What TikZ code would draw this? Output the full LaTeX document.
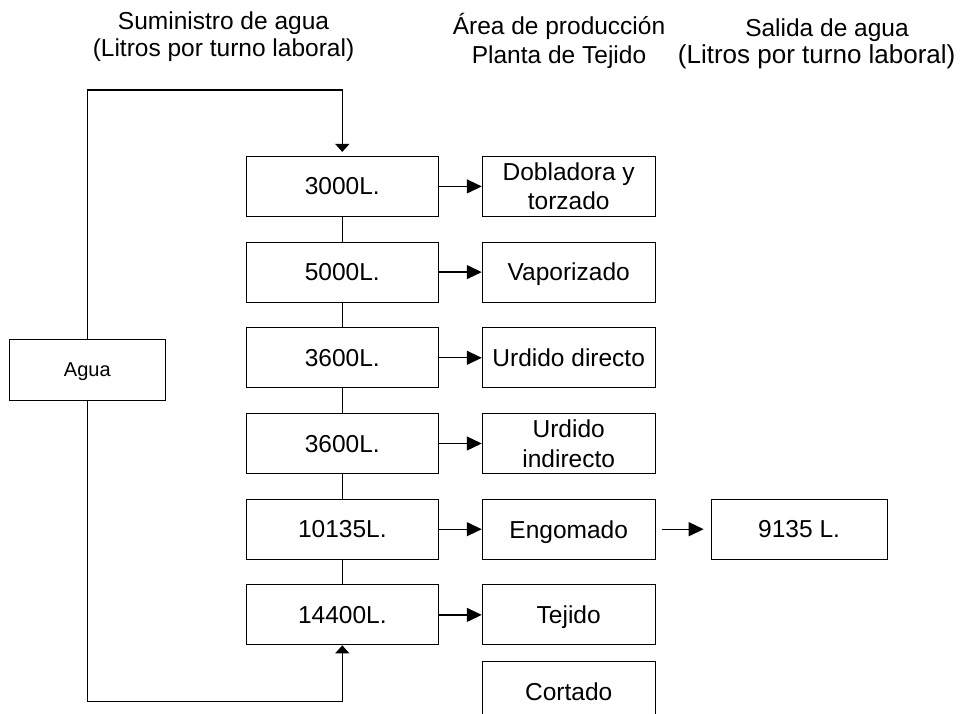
\documentclass[tikz,border=0pt]{standalone}
\usepackage{fontspec}
\setmainfont{Liberation Sans}
\usetikzlibrary{arrows.meta,positioning}

\begin{document}
\begin{tikzpicture}
    [x=1pt, y=-1pt, >={Triangle[length=15pt,width=14pt]},
    node distance=24.8pt and 43pt,
    caja/.style={rectangle, draw, line width=0.9pt, minimum width=192pt,
    minimum height=60pt, inner sep=2pt, align=center, text depth=0pt,
    font=\fontsize{24.5}{29.4}\selectfont},
    area/.style={caja, minimum width=173pt},
    titulo/.style={anchor=base, inner sep=0pt, font=\fontsize{24.5}{27}\selectfont},
    flujo/.style={line width=1.3pt},
    bajada/.style={flujo, -{Triangle[length=8pt,width=14pt]}}]

  \clip (0,0) rectangle (962,713);

  \node[titulo] (sum1) at (223.5,29.3) {Suministro de agua};
  \node[titulo] (sum2) at (223.5,56.7) {(Litros por turno laboral)};
  \node[titulo] (area1) at (559,34) {Área de producción};
  \node[titulo] (area2) at (559,63) {Planta de Tejido};
  \node[titulo] (sal1) at (827,36.5) {Salida de agua};
  \node[titulo, font=\fontsize{26}{29}\selectfont] (sal2) at (816.7,63.5) {(Litros por turno laboral)};

  \node[caja] (l3000) at (342.3,186.4) {3000L.};
  \node[caja, below=of l3000] (l5000) {5000L.};
  \node[caja, below=of l5000] (l3600a) {3600L.};
  \node[caja, below=of l3600a] (l3600b) {3600L.};
  \node[caja, below=of l3600b] (l10135) {10135L.};
  \node[caja, below=of l10135] (l14400) {14400L.};

  \node[area, right=of l3000] (doblado) {Dobladora y\\torzado};
  \node[area, right=of l5000] (vapor) {Vaporizado};
  \node[area, right=of l3600a] (udirecto) {Urdido directo};
  \node[area, right=of l3600b] (uindirecto) {Urdido\\indirecto};
  \node[area, right=of l10135] (engomado) {Engomado};
  \node[area, right=of l14400] (tejido) {Tejido};
  \node[area, below=16pt of tejido] (cortado) {Cortado};

  \node[caja, minimum width=176pt, right=55pt of engomado] (salida) {9135 L.};
  \node[caja, minimum width=156pt, minimum height=60.7pt,
    font=\fontsize{20}{24}\selectfont] (agua) at (87.3,369.7) {Agua};

  \coordinate (arriba) at (342.3,90);
  \coordinate (abajo) at (342.3,701.7);

  \foreach \a/\b in {l3000/l5000, l5000/l3600a, l3600a/l3600b,
    l3600b/l10135, l10135/l14400}
    \draw[flujo] (\a) -- (\b);

  \foreach \a/\b in {l3000/doblado, l5000/vapor, l3600a/udirecto,
    l3600b/uindirecto, l10135/engomado, l14400/tejido}
    \draw[flujo,->] (\a) -- (\b);

  \draw[flujo,->,shorten <=6pt,shorten >=7pt] (engomado) -- (salida);

  \draw[bajada,shorten >=4pt] (agua.north) |- (arriba) -- (l3000.north);
  \draw[bajada] (agua.south) |- (abajo) -- (l14400.south);

\end{tikzpicture}
\end{document}
